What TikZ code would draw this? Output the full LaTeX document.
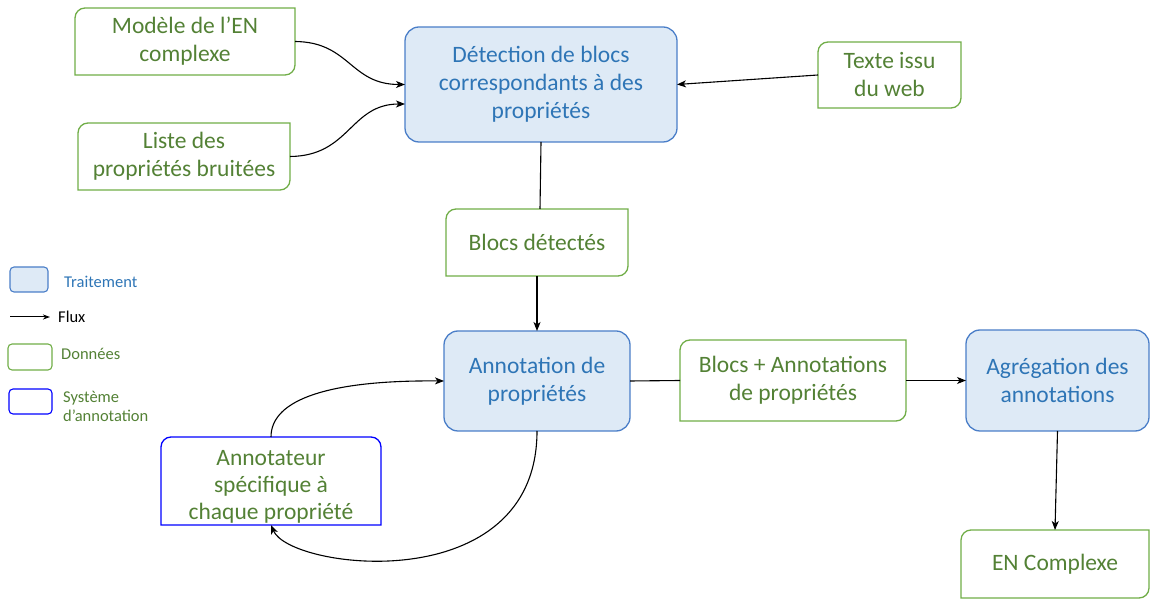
\documentclass[tikz,border=0pt]{standalone}
\usepackage{fontspec}
\setmainfont{Carlito}
\usetikzlibrary{arrows.meta,calc}
\definecolor{gtext}{HTML}{538135}
\definecolor{gline}{HTML}{70AD47}
\definecolor{btext}{HTML}{2E75B6}
\definecolor{bline}{HTML}{4A7EC8}
\definecolor{bfill}{HTML}{DEEAF6}
\definecolor{sysline}{HTML}{0000FF}
\newcommand{\rr}{10pt}
\newcommand{\datashape}[1]{\draw[dataline] (#1.south west) -- ([yshift=-\rr]#1.north west) arc[start angle=180,end angle=90,radius=\rr] -- (#1.north east) -- ([yshift=\rr]#1.south east) arc[start angle=0,end angle=-90,radius=\rr] -- cycle;}
\newcommand{\sysshape}[1]{\draw[sysborder] (#1.south west) -- ([yshift=-\rr]#1.north west) arc[start angle=180,end angle=90,radius=\rr] -- ([xshift=-\rr]#1.north east) arc[start angle=90,end angle=0,radius=\rr] -- (#1.south east) -- cycle;}
\begin{document}
\begin{tikzpicture}[x=1pt,y=1pt,
  bigfont/.style={font=\fontsize{23.5}{28}\selectfont},
  proc/.style={draw=bline, fill=bfill, line width=1.3pt, rounded corners=14pt, text=btext, align=center, bigfont, inner sep=0pt, outer sep=0pt},
  data/.style={draw=none, text=gtext, align=center, bigfont, inner sep=0pt, outer sep=0pt},
  dataline/.style={draw=gline, line width=1.3pt},
  sysborder/.style={draw=sysline, line width=1.3pt},
  flow/.style={draw=black, line width=1.1pt, -{Stealth[length=9pt,width=7pt,inset=2.5pt]}},
  link/.style={draw=black, line width=1.1pt},
  legfont/.style={font=\fontsize{16.5}{19}\selectfont, inner sep=0pt, anchor=west, align=left}
]
\useasboundingbox (0,0) rectangle (1150,599);

% processing nodes
\node[proc, minimum width=272pt, minimum height=115pt] (detect) at (541,514.5) {Détection de blocs\\correspondants à des\\propriétés};
\node[proc, minimum width=186pt, minimum height=100pt] (annot) at (537,218) {Annotation de\\propriétés};
\node[proc, minimum width=183pt, minimum height=101pt] (agreg) at (1057.5,218.5) {Agrégation des\\annotations};

% data nodes
\node[data, minimum width=220pt, minimum height=67pt] (modele) at (185,557.5) {Modèle de l’EN\\complexe};
\node[data, minimum width=212pt, minimum height=67pt] (liste) at (184,442.5) {Liste des\\propriétés bruitées};
\node[data, minimum width=143pt, minimum height=66pt] (texte) at (889.5,524) {Texte issu\\du web};
\node[data, minimum width=182pt, minimum height=67pt] (blocsdet) at (537,356.5) {Blocs détectés};
\node[data, minimum width=226pt, minimum height=81pt] (blocsann) at (793,218.5) {Blocs + Annotations\\de propriétés};
\node[data, minimum width=188pt, minimum height=68pt] (en) at (1055,35) {EN Complexe};
\datashape{modele}
\datashape{liste}
\datashape{texte}
\datashape{blocsdet}
\datashape{blocsann}
\datashape{en}

% annotation system
\node[data, minimum width=220pt, minimum height=88pt] (annotateur) at (271,118) {};
\sysshape{annotateur}
\node[data, font=\fontsize{23.5}{27}\selectfont] (annotxt) at (271,112) {Annotateur\\spécifique à\\chaque propriété};

% connectors
\draw[flow] (modele.east) .. controls (350,557) and (350,514.5) .. (detect.west);
\draw[flow] (liste.east) .. controls (350,443) and (350,495) .. ([yshift=-19.5pt]detect.west);
\draw[flow] (texte.west) -- (detect.east);
\draw[link] (detect.south) -- ([xshift=3pt]blocsdet.north);
\draw[flow] (blocsdet.south) -- (annot.north);
\draw[link] (annot.east) -- (blocsann.west);
\draw[flow] (blocsann.east) -- (agreg.west);
\draw[flow] (agreg.south) -- (en.north);
\draw[flow] (annotateur.north) .. controls (271,200) and (330,219) .. (annot.west);
\draw[flow] (annot.south) .. controls (537,-1) and (290,29) .. (annotateur.south);

% legend
\node[draw=bline, fill=bfill, line width=1.1pt, rounded corners=4pt, minimum width=38pt, minimum height=25pt, inner sep=0pt] (legproc) at (29,319.5) {};
\node[legfont, text=btext] (legproctxt) at (64,317) {Traitement};
\coordinate (fluxa) at (10,282);
\coordinate (fluxb) at (50,282);
\draw[line width=1pt, -{Stealth[length=7pt,width=5pt,inset=2pt]}] (fluxa) -- (fluxb);
\node[legfont, text=black] (legfluxtxt) at (58,282) {Flux};
\node[draw=gline, line width=1.1pt, rounded corners=4pt, minimum width=44pt, minimum height=26pt, inner sep=0pt] (legdata) at (30,242) {};
\node[legfont, text=gtext] (legdatatxt) at (61,245) {Données};
\node[draw=sysline, line width=1.1pt, rounded corners=4pt, minimum width=43pt, minimum height=25pt, inner sep=0pt] (legsys) at (30.5,197.5) {};
\node[legfont, text=gtext] (legsystxt) at (63,192.5) {Système\\d’annotation};
\end{tikzpicture}
\end{document}
